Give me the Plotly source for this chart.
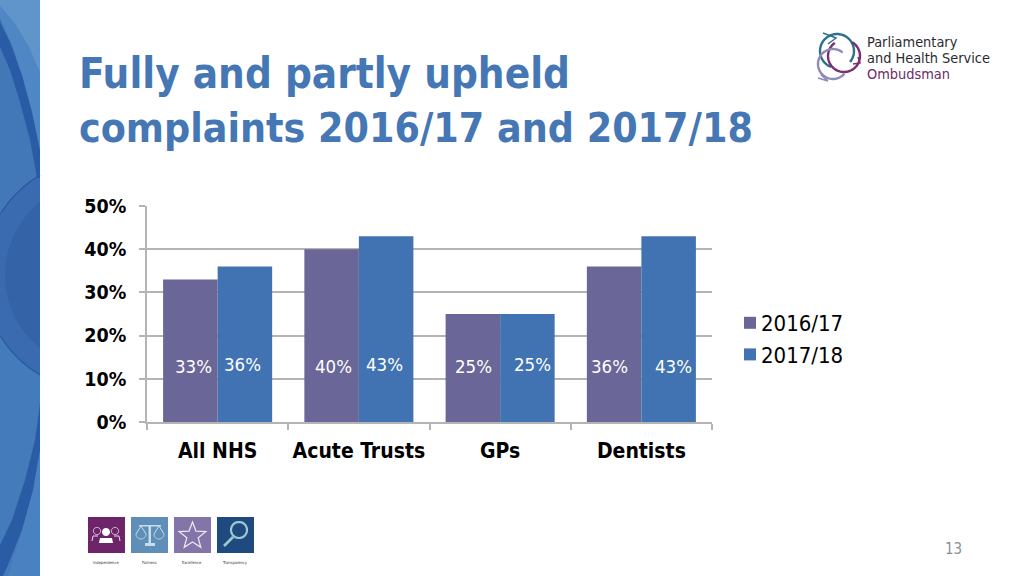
import math
import plotly.graph_objects as go

categories = ["All NHS", "Acute Trusts", "GPs", "Dentists"]
series_names = ["2016/17", "2017/18"]
values_1617 = [33, 40, 25, 36]
values_1718 = [36, 43, 25, 43]
y_ticks = [0, 10, 20, 30, 40, 50]
title_lines = ["Fully and partly upheld", "complaints 2016/17 and 2017/18"]
logo_lines = ["Parliamentary", "and Health Service", "Ombudsman"]
value_names = ["Independence", "Fairness", "Excellence", "Transparency"]
page_number = "13"

W, H = 1024, 576
L, R, T, B = 147, 712, 206, 422
FONT = "DejaVu Sans Condensed, DejaVu Sans"


def px(x):
    return (x - L) / (R - L)


def py(y):
    return (B - y) / (B - T)


def poly(points, close=True):
    s = "M" + " L".join(f"{px(x):.5f},{py(y):.5f}" for x, y in points)
    return s + (" Z" if close else "")


def shape_path(points, fill=None, line=None, width=0, close=True):
    return dict(
        type="path", xref="paper", yref="paper", layer="below",
        path=poly(points, close),
        fillcolor=fill if fill else "rgba(0,0,0,0)",
        line=dict(color=line if line else "rgba(0,0,0,0)", width=width),
    )


def rect(x0, y0, x1, y1, fill):
    return shape_path([(x0, y0), (x1, y0), (x1, y1), (x0, y1)], fill=fill)


def arc(cx, cy, r, a0, a1, n=48, ry=None):
    ry = ry if ry else r
    return [(cx + r * math.cos(math.radians(a0 + (a1 - a0) * i / n)),
             cy + ry * math.sin(math.radians(a0 + (a1 - a0) * i / n))) for i in range(n + 1)]


def disc_left_of(cx, cy, r, xmax=40):
    """Part of a disc that lies on the band, as a polygon."""
    a = math.degrees(math.acos((xmax - cx) / r))
    pts = arc(cx, cy, r, a, 360 - a)
    return [(max(x, 0), y) for x, y in pts]


def rim(cx, cy, r, xmax=40):
    """The two visible stretches of a circle's edge on the band."""
    a = math.degrees(math.acos((xmax - cx) / r))
    b = math.degrees(math.acos((0 - cx) / r))
    return arc(cx, cy, r, a, b, 16), arc(cx, cy, r, 360 - b, 360 - a, 16)


shapes = []
# left decorative band
shapes.append(rect(0, 0, 40, 576, "#4278b8"))
shapes.append(shape_path([(0, 0), (40, 0), (40, 200), (36, 150), (26, 95), (14, 50), (0, 18)], fill="#4f87c4"))
shapes.append(shape_path([(0, 0), (40, 0), (40, 72), (28, 45), (14, 22), (0, 6)], fill="#5f95cb"))
shapes.append(shape_path([(0, 330), (40, 375), (40, 576), (0, 576)], fill="#447bbb"))
shapes.append(shape_path([(40, 430), (40, 576), (8, 576), (25, 520)], fill="#4a81c0"))
# large circle with inner disc
shapes.append(shape_path(disc_left_of(99, 275, 116), fill="#3a6bb0"))
shapes.append(shape_path(disc_left_of(99, 275, 94), fill="#3563a8"))
for part in rim(99, 275, 116):
    shapes.append(shape_path(part, line="#27589f", width=1.2, close=False))
# dark sweeping bands
shapes.append(shape_path([(0, 22), (10, 42), (22, 75), (32, 112), (40, 150), (40, 178), (37, 178),
                          (30, 140), (20, 102), (10, 70), (0, 47)], fill="#2a5ca6"))
shapes.append(shape_path([(40, 403), (40, 450), (33, 490), (22, 530), (8, 565), (3, 576), (0, 576),
                          (0, 545), (12, 520), (25, 480), (35, 440)], fill="#2a5ca6"))

# logo rings
shapes.append(shape_path(arc(837, 51, 17, 110, 400), line="#2f6f8f", width=2.4, close=False))
shapes.append(shape_path(arc(844, 56, 16, -60, 235), line="#7a2f73", width=2.4, close=False))
shapes.append(shape_path(arc(833, 64, 15, 40, 310), line="#8f8bb5", width=2.4, close=False))
shapes.append(shape_path([(823, 33), (836, 38), (828, 44)], line="#2f6f8f", width=1.5, close=False))
shapes.append(shape_path([(858, 57), (860, 63), (853, 64)], line="#7a2f73", width=1.5, close=False))
shapes.append(shape_path([(818, 78), (828, 81), (821, 75)], line="#8f8bb5", width=1.5, close=False))

# value icons
icon_x = [88, 131, 174, 217]
icon_colors = ["#6e2468", "#5f8fb8", "#8475a8", "#1f4a80"]
for x0, c in zip(icon_x, icon_colors):
    shapes.append(rect(x0, 517, x0 + 37, 553, c))
# people
for dx, dy, r in [(-9, 0, 3.6), (9, 0, 3.6)]:
    shapes.append(shape_path(arc(106 + dx, 531 + dy, r, 0, 360), line="#e8d8e8", width=1))
shapes.append(shape_path(arc(106, 532, 4, 0, 360), fill="#ffffff"))
shapes.append(shape_path([(99, 543), (100, 538), (112, 538), (113, 543)], fill="#ffffff"))
shapes.append(shape_path([(92, 541), (93, 536), (98, 536)], line="#e8d8e8", width=1, close=False))
shapes.append(shape_path([(120, 541), (119, 536), (114, 536)], line="#e8d8e8", width=1, close=False))
# scales
shapes.append(rect(148.5, 526, 151, 543, "#c9dcea"))
shapes.append(rect(145, 543, 155, 546, "#c9dcea"))
shapes.append(rect(139, 525, 161, 526.5, "#c9dcea"))
shapes.append(shape_path(arc(141, 534, 5, 0, 180) + [(141, 526)], line="#c9dcea", width=1))
shapes.append(shape_path(arc(159, 534, 5, 0, 180) + [(159, 526)], line="#c9dcea", width=1))
# star
star = [(192.5 + (14 if i % 2 == 0 else 6) * math.sin(math.radians(36 * i)),
         536 - (14 if i % 2 == 0 else 6) * math.cos(math.radians(36 * i))) for i in range(10)]
shapes.append(shape_path(star, line="#ece8f2", width=1.3))
# magnifier
shapes.append(shape_path(arc(239, 530, 8, 0, 360), line="#9fc9cf", width=2.2))
shapes.append(shape_path([(233, 537), (224, 546)], line="#9fc9cf", width=2.6, close=False))

annotations = []


def text(x, y, s, size, color, anchor="left", weight="normal", family=FONT):
    annotations.append(dict(
        xref="paper", yref="paper", x=px(x), y=py(y), text=s, showarrow=False,
        xanchor=anchor, yanchor="middle", align=anchor,
        font=dict(family=family, size=size, color=color, weight=weight),
    ))


TITLE_C = "#4577b5"
text(77, 73, title_lines[0], 41.8, TITLE_C, weight="bold")
text(77, 128, title_lines[1], 40.7, TITLE_C, weight="bold")
text(865, 42, logo_lines[0], 14.4, "#2b2b33")
text(865, 58, logo_lines[1], 14.4, "#2b2b33")
text(865, 74, logo_lines[2], 14.4, "#6e2a66")
for x0, s in zip(icon_x, value_names):
    text(x0 + 18, 562, s, 4, "#333333", anchor="center")
text(953, 549, page_number, 15, "#8a8f96", anchor="center")

# value labels, hand placed in the reference just above the 10% line
label_dx = [(3, -2), (2, -2), (1, 5), (-5, 5)]
label_dy = [(-1, 1), (-1, 1), (-1, 1), (-1, -1)]
BAR_OFF = 0.193
for i in range(len(categories)):
    for j, vals in enumerate((values_1617, values_1718)):
        annotations.append(dict(
            xref="x", yref="y", x=i + (-BAR_OFF if j == 0 else BAR_OFF), y=13,
            xshift=label_dx[i][j], yshift=label_dy[i][j],
            text=f"{vals[i]}%", showarrow=False, xanchor="center", yanchor="middle",
            font=dict(family=FONT, size=18.5, color="#ffffff"),
        ))

fig = go.Figure()
fig.add_bar(name=series_names[0], x=categories, y=values_1617, marker=dict(color="#6a6697", line=dict(width=0)), legendgroup="a")
fig.add_bar(name=series_names[1], x=categories, y=values_1718, marker=dict(color="#4173b2", line=dict(width=0)), legendgroup="b")
fig.update_layout(
    width=W, height=H, autosize=False,
    margin=dict(l=L, r=W - R, t=T, b=H - B, pad=0),
    paper_bgcolor="#ffffff", plot_bgcolor="#ffffff",
    barmode="group", bargap=0.228, bargroupgap=0,
    font=dict(family=FONT, color="#000000"),
    shapes=shapes, annotations=annotations,
    legend=dict(
        x=px(730), xanchor="left", xref="paper", y=py(302), yanchor="top",
        font=dict(family=FONT, size=22, color="#000000"),
        tracegroupgap=15, itemwidth=30, bgcolor="rgba(0,0,0,0)", traceorder="normal",
    ),
    xaxis=dict(
        tickson="boundaries", ticks="outside", ticklen=6, tickcolor="#b4b4b4", tickwidth=1.5,
        showline=True, linecolor="#b4b4b4", linewidth=1.5, showgrid=False, tickangle=0,
        tickfont=dict(family=FONT, size=21, color="#000000", weight="bold"),
        range=[-0.5, 3.5], fixedrange=True, ticklabelstandoff=9,
    ),
    yaxis=dict(
        range=[0, 50], tickvals=y_ticks, ticktext=[f"{v}%" for v in y_ticks],
        ticks="outside", ticklen=6, tickcolor="#b4b4b4", tickwidth=1.5,
        showline=True, linecolor="#b4b4b4", linewidth=1.5,
        showgrid=True, gridcolor="#b4b4b4", gridwidth=1.5, zeroline=False,
        tickfont=dict(family=FONT, size=19.5, color="#000000", weight="bold"),
        ticklabelstandoff=9, fixedrange=True,
    ),
)
post = """
document.body.style.margin='0';document.body.style.overflow='hidden';
document.querySelectorAll('.legendtext').forEach(function(t){
  t.setAttribute('x', parseFloat(t.getAttribute('x')) - 9);
});
"""
fig.write_html("out.html", config={"displayModeBar": False}, post_script=post)
